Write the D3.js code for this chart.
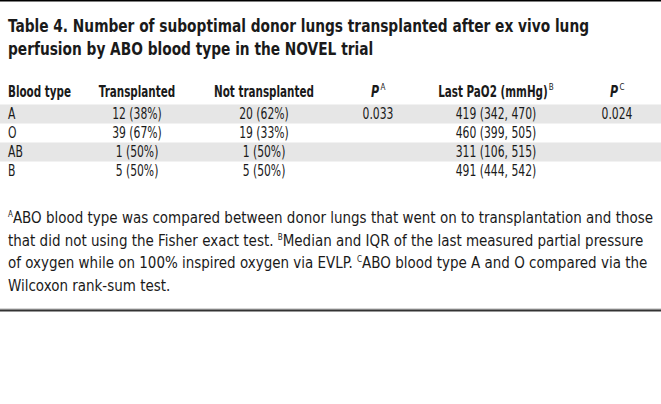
<!DOCTYPE html>
<html>
<head>
<meta charset="utf-8">
<script src="https://cdn.jsdelivr.net/npm/d3@7"></script>
<style>
  body { margin: 0; background: #fff; }
  svg text { font-family: "Liberation Sans Narrow", "DejaVu Sans Condensed", "Open Sans", sans-serif; fill: #1a1a1a; }
</style>
</head>
<body>
<div id="chart"></div>
<script>
// table values
const bloodTypes = ['A', 'O', 'AB', 'B'];
const transplantedN = [12, 39, 1, 5];
const transplantedPct = [38, 67, 50, 50];
const notTransplantedN = [20, 19, 1, 5];
const notTransplantedPct = [62, 33, 50, 50];
const pA = ['0.033', '', '', ''];
const pao2Median = [419, 460, 311, 491];
const pao2Q1 = [342, 399, 106, 444];
const pao2Q3 = [470, 505, 515, 542];
const pC = ['0.024', '', '', ''];

const titleLines = [
  'Table 4. Number of suboptimal donor lungs transplanted after ex vivo lung',
  'perfusion by ABO blood type in the NOVEL trial'
];
// footnote lines, each a list of [text, isSuperscript]
const footLines = [
  [['A', true], ['ABO blood type was compared between donor lungs that went on to transplantation and those', false]],
  [['that did not using the Fisher exact test. ', false], ['B', true], ['Median and IQR of the last measured partial pressure', false]],
  [['of oxygen while on 100% inspired oxygen via EVLP. ', false], ['C', true], ['ABO blood type A and O compared via the', false]],
  [['Wilcoxon rank-sum test.', false]]
];

const width = 661, height = 404;

const svg = d3.select('#chart').append('svg')
    .attr('width', width)
    .attr('height', height);

// squeeze text horizontally by ratio r
function squeeze(sel, r) {
  sel.each(function() {
    const len = this.getComputedTextLength();
    if (len > 0) d3.select(this).attr('textLength', len * r).attr('lengthAdjust', 'spacingAndGlyphs');
  });
}
// fit the first line to its width in the reference, scale the others alike
function fitLines(sel, targetFirst) {
  const r = targetFirst / sel.node().getComputedTextLength();
  squeeze(sel, r);
}

// top rule
svg.append('rect').attr('x', 0).attr('y', 0).attr('width', width).attr('height', 1.5).attr('fill', '#000');

// title
const titleText = svg.append('g').selectAll('text')
  .data(titleLines)
  .join('text')
    .attr('x', 8)
    .attr('y', (d, i) => 32 + i * 23)
    .attr('font-size', 17)
    .attr('font-weight', 'bold')
    .text(d => d);
fitLines(titleText, 581);

// table
const rowY = d3.scaleBand().domain(bloodTypes).range([104.5, 180.5]);

const columns = [
  {head: 'Blood type', x: 8, anchor: 'start', val: (d, i) => d},
  {head: 'Transplanted', x: 137, anchor: 'middle', val: (d, i) => `${transplantedN[i]} (${transplantedPct[i]}%)`},
  {head: 'Not transplanted', x: 264, anchor: 'middle', val: (d, i) => `${notTransplantedN[i]} (${notTransplantedPct[i]}%)`},
  {head: 'P', sup: 'A', x: 378, anchor: 'middle', val: (d, i) => pA[i]},
  {head: 'Last PaO2 (mmHg)', sup: 'B', x: 496, anchor: 'middle', val: (d, i) => `${pao2Median[i]} (${pao2Q1[i]}, ${pao2Q3[i]})`},
  {head: 'P', sup: 'C', x: 617, anchor: 'middle', val: (d, i) => pC[i]}
];

// striped rows
svg.append('g').selectAll('rect')
  .data(bloodTypes.filter((d, i) => i % 2 === 0))
  .join('rect')
    .attr('x', 0)
    .attr('y', d => rowY(d))
    .attr('width', width)
    .attr('height', rowY.bandwidth())
    .attr('fill', '#e6e6e6');

// header: narrowed with a transform so its box follows the drawn glyphs
const headR = 0.77;
const headG = svg.append('g');
const head = headG.selectAll('text.head')
  .data(columns)
  .join('text')
    .attr('class', 'head')
    .attr('x', d => d.sup ? d.x - 3 : d.x)
    .attr('y', 97)
    .attr('text-anchor', d => d.anchor)
    .attr('font-size', d => d.head === 'P' ? 16 : 15)
    .attr('font-style', d => d.head === 'P' ? 'italic' : null)
    .attr('font-weight', 'bold')
    .attr('transform', d => {
      const x0 = d.sup ? d.x - 3 : d.x;
      return `translate(${x0},0) scale(${headR},1) translate(${-x0},0)`;
    })
    .text(d => d.head);
// superscripts as their own labels after the header text
head.filter(d => d.sup).each(function(d) {
  const b = this.getBBox();
  const x0 = d.x - 3;
  const right = x0 + (b.x + b.width - x0) * headR;
  headG.append('text')
    .attr('x', right + 1)
    .attr('y', 90)
    .attr('font-size', 8)
    .text(d.sup);
});

// body cells
const cells = svg.append('g');
columns.forEach(col => {
  const t = cells.append('g').selectAll('text')
    .data(bloodTypes)
    .join('text')
      .attr('x', col.x)
      .attr('y', d => rowY(d) + rowY.bandwidth() / 2 + 5)
      .attr('text-anchor', col.anchor)
      .attr('font-size', 15)
      .text((d, i) => col.val(d, i));
  squeeze(t, 0.8);
});

// footnotes
const foot = svg.append('g').selectAll('text')
  .data(footLines)
  .join('text')
    .attr('x', 8)
    .attr('y', (d, i) => 223 + i * 22.5)
    .attr('font-size', 15);
foot.each(function(parts) {
  const t = d3.select(this);
  parts.forEach(([s, sup]) => {
    t.append('tspan')
      .attr('font-size', sup ? 8 : null)
      .attr('baseline-shift', sup ? '70%' : null)
      .text(s);
  });
});
fitLines(foot, 645);

// bottom double rule
svg.append('rect').attr('x', 0).attr('y', 308.5).attr('width', width).attr('height', 1).attr('fill', '#b0b0b0');
svg.append('rect').attr('x', 0).attr('y', 309.5).attr('width', width).attr('height', 2).attr('fill', '#333');
</script>
</body>
</html>
